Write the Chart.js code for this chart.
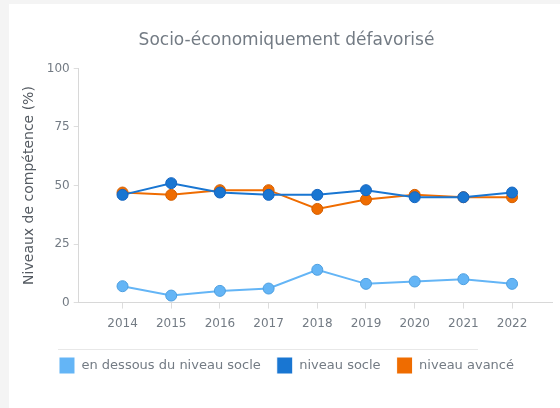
<!DOCTYPE html>
<html>
<head>
<meta charset="utf-8">
<script src="https://cdn.jsdelivr.net/npm/chart.js@4"></script>
<style>
html,body{margin:0;padding:0;background:#f4f4f4;width:560px;height:408px;overflow:hidden;}
#card{position:absolute;left:9px;top:4px;width:551px;height:404px;background:#fff;}
canvas{display:block;}
</style>
</head>
<body>
<div id="card"><canvas id="c" width="551" height="404"></canvas></div>
<script>
const years = [2014, 2015, 2016, 2017, 2018, 2019, 2020, 2021, 2022];
const belowSocle = [7, 3, 5, 6, 14, 8, 9, 10, 8];
const socle = [46, 51, 47, 46, 46, 48, 45, 45, 47];
const avance = [47, 46, 48, 48, 40, 44, 46, 45, 45];
const yTicks = [0, 25, 50, 75, 100];
const seriesNames = ['en dessous du niveau socle', 'niveau socle', 'niveau avancé'];
const titleText = 'Socio-économiquement défavorisé';
const yTitle = 'Niveaux de compétence (%)';

const textColor = '#737b84';
const fontFamily = '"DejaVu Sans", sans-serif';

function mk(name, vals, color, border) {
  return {
    label: name,
    data: years.map((y, i) => ({x: y, y: vals[i]})),
    borderColor: color,
    backgroundColor: color,
    pointBackgroundColor: color,
    pointBorderColor: border,
    pointBorderWidth: 1,
    pointRadius: 5.5,
    borderWidth: 2,
    tension: 0
  };
}

const decor = {
  id: 'decor',
  afterDraw(chart) {
    const ctx = chart.ctx;
    const lg = chart.legend;
    ctx.save();
    ctx.strokeStyle = '#e8e8e8';
    ctx.lineWidth = 1;
    ctx.beginPath();
    ctx.moveTo(49, lg.top + 8.5);
    ctx.lineTo(469, lg.top + 8.5);
    ctx.stroke();
    ctx.restore();
  }
};

new Chart(document.getElementById('c'), {
  type: 'line',
  data: {
    datasets: [
      mk(seriesNames[0], belowSocle, '#64b5f6', '#4d9fe0'),
      mk(seriesNames[1], socle, '#1976d2', '#1565c0'),
      mk(seriesNames[2], avance, '#ef6c00', '#d35f00')
    ]
  },
  options: {
    responsive: false,
    animation: false,
    layout: {padding: {left: 12, right: 8, top: 26, bottom: 24}},
    plugins: {
      title: {
        display: true,
        text: titleText,
        color: textColor,
        font: {family: fontFamily, size: 17, weight: 'normal'},
        padding: {top: 0, bottom: 18}
      },
      legend: {
        position: 'bottom',
        labels: {
          color: textColor,
          font: {family: fontFamily, size: 13},
          boxWidth: 16,
          boxHeight: 17,
          padding: 16,
          generateLabels(chart) {
            return chart.data.datasets.map((d, i) => ({
              text: d.label,
              fillStyle: d.borderColor,
              strokeStyle: '#ffffff',
              lineWidth: 1,
              fontColor: textColor,
              datasetIndex: i,
              hidden: false
            }));
          }
        }
      },
      tooltip: {enabled: false}
    },
    scales: {
      x: {
        type: 'linear',
        min: 2013.1,
        max: 2022.82,
        afterBuildTicks(axis) { axis.ticks = years.map(v => ({value: v})); },
        afterFit(axis) { axis.height += 2; },
        ticks: {
          color: textColor,
          font: {family: fontFamily, size: 12},
          padding: 8,
          callback: v => String(v),
          autoSkip: false,
          maxRotation: 0
        },
        grid: {drawOnChartArea: false, drawTicks: true, tickLength: 6, color: '#dddddd'},
        border: {display: true, color: '#d8d8d8', width: 1}
      },
      y: {
        min: 0,
        max: 100,
        afterBuildTicks(axis) { axis.ticks = yTicks.map(v => ({value: v})); },
        ticks: {
          color: textColor,
          font: {family: fontFamily, size: 12},
          padding: 4
        },
        grid: {drawOnChartArea: false, drawTicks: true, tickLength: 5, color: '#dddddd'},
        border: {display: true, color: '#d8d8d8', width: 1},
        title: {
          display: true,
          text: yTitle,
          color: '#555b62',
          font: {family: fontFamily, size: 14},
          padding: {top: 0, bottom: 5}
        }
      }
    }
  },
  plugins: [decor]
});
</script>
</body>
</html>
